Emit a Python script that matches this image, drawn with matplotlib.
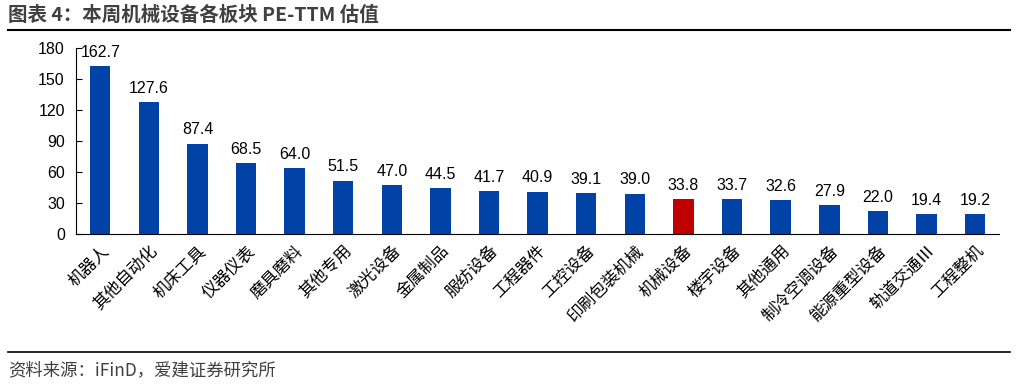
import matplotlib.pyplot as plt
from matplotlib.lines import Line2D

plt.rcParams['font.family'] = ['Liberation Sans', 'Noto Sans CJK SC', 'DejaVu Sans']

categories = ['机器人', '其他自动化', '机床工具', '仪器仪表', '磨具磨料', '其他专用', '激光设备',
              '金属制品', '服纺设备', '工程器件', '工控设备', '印刷包装机械', '机械设备', '楼宇设备',
              '其他通用', '制冷空调设备', '能源重型设备', '轨道交通Ⅲ', '工程整机']
pe_ttm = [162.7, 127.6, 87.4, 68.5, 64.0, 51.5, 47.0, 44.5, 41.7, 40.9, 39.1, 39.0, 33.8,
          33.7, 32.6, 27.9, 22.0, 19.4, 19.2]
highlight = '机械设备'

colors = ['#C00000' if c == highlight else '#0042A5' for c in categories]

fig = plt.figure(figsize=(10.17, 3.84), dpi=100)
ax = fig.add_axes([0.0747, 0.391, 0.908, 0.484])

x = range(len(categories))
ax.bar(x, pe_ttm, width=0.42, color=colors)
for i, v in enumerate(pe_ttm):
    ax.text(i, v + 6, f'{v:.1f}', ha='center', va='bottom', fontsize=11.5)

ax.set_xlim(-0.5, len(categories) - 0.5)
ax.set_ylim(0, 180)
ax.set_yticks(range(0, 181, 30))
ax.tick_params(axis='y', direction='in', length=4, labelsize=11.5, pad=8)
ax.tick_params(axis='x', length=0, pad=6)
ax.set_xticks(list(x))
ax.set_xticklabels(categories, rotation=45, ha='right', rotation_mode='anchor',
                   fontsize=12, family=['Noto Sans CJK SC', 'DejaVu Sans'])
ax.spines['top'].set_visible(False)
ax.spines['right'].set_visible(False)

fig.text(0.008, 0.96, '图表 4：本周机械设备各板块 PE-TTM 估值', fontsize=14, fontweight='bold',
         color='#404040', va='center', family=['Noto Sans CJK SC', 'DejaVu Sans'])
fig.add_artist(Line2D([0.008, 0.993], [0.922, 0.922], color='black', lw=1.5))
fig.add_artist(Line2D([0.008, 0.993], [0.083, 0.083], color='black', lw=1.2))
fig.text(0.008, 0.035, '资料来源：iFinD，爱建证券研究所', fontsize=12.5, color='#404040',
         va='center', family=['Noto Sans CJK SC', 'DejaVu Sans'])

fig.savefig('out.png', dpi=100)
